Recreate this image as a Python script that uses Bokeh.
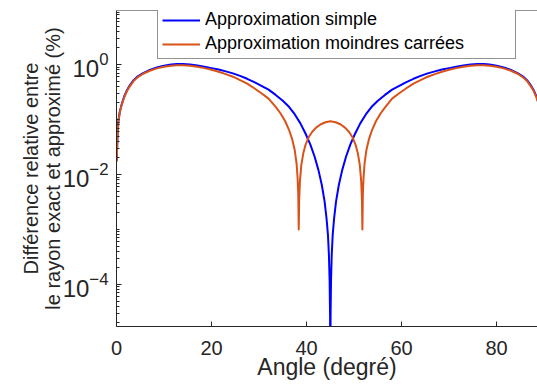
from bokeh.plotting import figure
from bokeh.models import FixedTicker, LogTickFormatter, Legend, LegendItem, Span, Range1d
from bokeh.embed import file_html
from bokeh.resources import INLINE

# ---- data ----
angle_simple = [0.05, 0.2, 0.4, 0.7, 1.1, 1.6, 2.2, 2.8, 3.6, 4.5, 5.6, 7.0, 8.5, 10.0, 11.5,
                12.7, 14.0, 15.5, 17.0, 18.5, 20.0, 21.5, 23.0, 24.5, 26.0, 27.5, 29.0, 30.5,
                32.0, 33.5, 35.0, 36.3, 37.5, 38.7, 39.8, 40.8, 41.7, 42.5, 43.2, 43.8, 44.2,
                44.5, 44.7, 44.85, 44.95, 45.0, 45.05, 45.15, 45.3, 45.5, 45.8, 46.2, 46.8,
                47.5, 48.3, 49.2, 50.2, 51.3, 52.5, 53.7, 55.0, 56.5, 58.0, 59.5, 61.0, 62.5,
                64.0, 65.5, 67.0, 68.5, 70.0, 71.5, 73.0, 74.5, 76.0, 77.3, 78.5, 80.0, 81.5,
                83.0, 84.4, 85.5, 86.4, 87.2, 87.8, 88.4, 88.9, 89.3, 89.6, 89.8, 89.95]
err_simple = [0.018, 0.05, 0.095, 0.14, 0.19, 0.26, 0.34, 0.42, 0.52, 0.61, 0.70, 0.80, 0.88,
              0.95, 1.0, 1.02, 1.02, 1.0, 0.96, 0.91, 0.86, 0.81, 0.75, 0.69, 0.62, 0.55, 0.48,
              0.41, 0.35, 0.28, 0.22, 0.17, 0.125, 0.085, 0.055, 0.035, 0.021, 0.012, 0.0065,
              0.0032, 0.0016, 8e-4, 3.5e-4, 1.2e-4, 2.5e-5, 1e-7, 2.5e-5, 1.2e-4, 3.5e-4, 8e-4,
              0.0016, 0.0032, 0.0065, 0.012, 0.021, 0.035, 0.055, 0.085, 0.125, 0.17, 0.22,
              0.28, 0.35, 0.41, 0.48, 0.55, 0.62, 0.69, 0.75, 0.81, 0.86, 0.91, 0.96, 1.0,
              1.02, 1.02, 1.0, 0.95, 0.88, 0.80, 0.70, 0.61, 0.52, 0.42, 0.34, 0.26, 0.19,
              0.14, 0.095, 0.05, 0.018]

angle_ls = [0.05, 0.2, 0.4, 0.7, 1.1, 1.6, 2.2, 2.8, 3.6, 4.5, 5.6, 7.0, 8.5, 10.0, 11.5, 12.7,
            14.0, 15.5, 17.0, 18.5, 20.0, 21.5, 23.0, 24.5, 26.0, 27.5, 29.0, 30.5, 32.0, 33.5,
            34.5, 35.5, 36.3, 37.0, 37.5, 37.9, 38.1, 38.25, 38.35, 38.45, 38.6, 38.9, 39.3,
            39.8, 40.4, 41.2, 42.0, 43.0, 44.0, 45.0, 46.1, 47.1, 48.1, 48.9, 49.7, 50.3, 50.8,
            51.2, 51.5, 51.65, 51.75, 51.85, 52.0, 52.2, 52.6, 53.1, 53.8, 54.6, 55.6, 56.6,
            58.0, 59.5, 61.0, 62.5, 64.0, 65.5, 67.0, 68.5, 70.0, 71.5, 73.0, 74.5, 76.0, 77.3,
            78.5, 80.0, 81.5, 83.0, 84.4, 85.5, 86.4, 87.2, 87.8, 88.4, 88.9, 89.3, 89.6, 89.8,
            89.95]
err_ls = [0.017, 0.048, 0.092, 0.135, 0.185, 0.25, 0.33, 0.40, 0.50, 0.59, 0.68, 0.77, 0.85,
          0.91, 0.95, 0.97, 0.97, 0.95, 0.91, 0.86, 0.80, 0.74, 0.67, 0.60, 0.52, 0.45, 0.37,
          0.30, 0.24, 0.17, 0.13, 0.093, 0.065, 0.043, 0.028, 0.0157, 0.009, 0.0045, 0.001,
          0.0035, 0.0075, 0.015, 0.024, 0.035, 0.047, 0.06, 0.071, 0.082, 0.089, 0.093, 0.089,
          0.082, 0.071, 0.06, 0.047, 0.035, 0.024, 0.015, 0.0075, 0.0035, 0.001, 0.0045, 0.009,
          0.0157, 0.028, 0.043, 0.065, 0.093, 0.13, 0.17, 0.24, 0.30, 0.37, 0.45, 0.52, 0.60,
          0.67, 0.74, 0.80, 0.86, 0.91, 0.95, 0.97, 0.97, 0.95, 0.91, 0.85, 0.77, 0.68, 0.59,
          0.50, 0.40, 0.33, 0.25, 0.185, 0.135, 0.092, 0.048, 0.017]

x_ticks = [0, 20, 40, 60, 80]
y_major_ticks = [1e-4, 1e-2, 1]
y_minor_ticks = [m * 10.0 ** e for e in range(-5, 1) for m in range(1, 10)] + [10.0]

label_simple = "Approximation simple"
label_ls = "Approximation moindres carrées"
x_label = "Angle (degré)"
y_label = "Différence relative entre\nle rayon exact et approximé (%)"

FONT = "Liberation Sans"
AX = "#262626"

p = figure(width=537, height=391, x_range=Range1d(0, 88.6), y_range=Range1d(1.72e-5, 9.6),
           y_axis_type="log", output_backend="svg", toolbar_location=None,
           min_border_left=116, min_border_right=0, min_border_top=10, min_border_bottom=65)
p.outline_line_color = None
p.grid.visible = False
p.background_fill_color = "white"

r1 = p.line(angle_simple, err_simple, line_color="#0000FF", line_width=2, line_join="round")
r2 = p.line(angle_ls, err_ls, line_color="#D95319", line_width=2, line_join="round")

p.add_layout(Span(location=9.6, dimension="width", line_color=AX, line_width=1))

for ax in (p.xaxis[0], p.yaxis[0]):
    ax.axis_line_color = AX
    ax.axis_line_width = 1
    ax.major_tick_line_color = AX
    ax.minor_tick_line_color = AX
    ax.major_tick_in = 5
    ax.major_tick_out = 0
    ax.major_label_text_font = FONT
    ax.major_label_text_font_size = "20px"
    ax.major_label_text_color = AX
    ax.axis_label_text_font = FONT
    ax.axis_label_text_color = AX
    ax.axis_label_text_font_style = "normal"

p.xaxis.ticker = FixedTicker(ticks=x_ticks)
p.xaxis.minor_tick_in = 0
p.xaxis.minor_tick_out = 0
p.xaxis.major_label_standoff = 14
p.xaxis.axis_label = x_label
p.xaxis.axis_label_text_font_size = "23px"
p.xaxis.axis_label_standoff = -4

p.yaxis.ticker = FixedTicker(ticks=y_major_ticks, minor_ticks=y_minor_ticks)
p.yaxis.formatter = LogTickFormatter()
p.yaxis.major_label_text_font_size = "24px"
p.yaxis.minor_tick_in = 3
p.yaxis.minor_tick_out = 0
p.yaxis.major_label_standoff = 8
p.yaxis.axis_label = y_label
p.yaxis.axis_label_text_font_size = "20px"
p.yaxis.axis_label_text_line_height = 1.0
p.yaxis.axis_label_standoff = -4

legend = Legend(items=[LegendItem(label=label_simple, renderers=[r1]),
                       LegendItem(label=label_ls, renderers=[r2])],
                location=(41, 267))
legend.label_text_font = FONT
legend.label_text_font_size = "18px"
legend.label_text_color = "#000000"
legend.glyph_width = 38
legend.glyph_height = 20
legend.label_height = 20
legend.label_width = 306
legend.label_standoff = 5
legend.spacing = 3
legend.padding = 4
legend.margin = 0
legend.border_line_color = AX
legend.border_line_width = 1
legend.background_fill_alpha = 1
p.add_layout(legend)

open("out.html", "w").write(file_html(p, INLINE))
